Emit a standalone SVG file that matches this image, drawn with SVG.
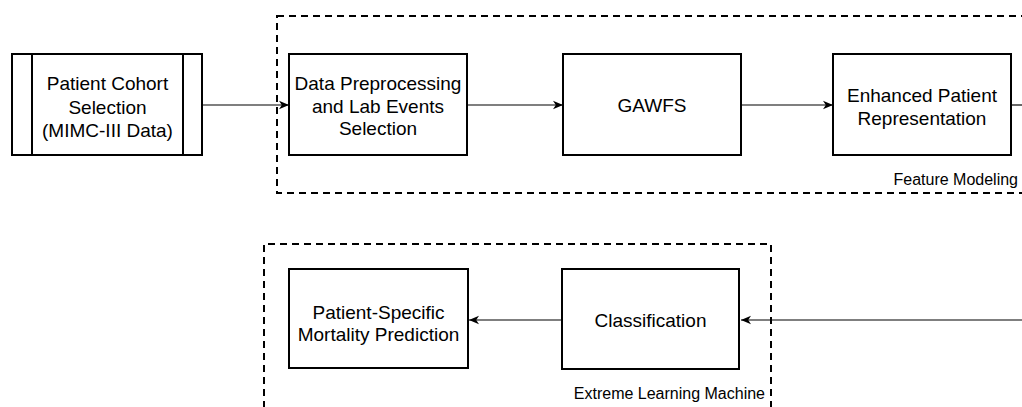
<svg xmlns="http://www.w3.org/2000/svg" width="1022" height="407" viewBox="0 0 1022 407">
<defs>
<style>
.box{fill:#fff;stroke:#000;stroke-width:2}
.grp{fill:none;stroke:#000;stroke-width:2;stroke-dasharray:7 5}
.t{font-family:"Liberation Sans",Arial,sans-serif;font-size:19px;fill:#000;text-anchor:middle}
.lbl{font-family:"Liberation Sans",Arial,sans-serif;font-size:16px;fill:#000;text-anchor:end}
.c{fill:none;stroke:#000;stroke-width:1.2}
</style>
<marker id="arr" viewBox="0 0 10 10" refX="10" refY="5" markerWidth="10" markerHeight="10" markerUnits="userSpaceOnUse" orient="auto">
<path d="M0,0.8 L10,5 L0,9.2 L2.8,5 Z" fill="#000"/>
</marker>
</defs>
<rect width="1022" height="407" fill="#fff"/>
<g id="group-feature-modeling">
<rect class="grp" x="277" y="16" width="760" height="177"/>
<text class="lbl" x="1018" y="185">Feature Modeling</text>
</g>
<g id="group-elm">
<path class="grp" d="M264,420 L264,244 L771,244 L771,420"/>
<text class="lbl" x="765" y="399">Extreme Learning Machine</text>
</g>
<g id="connectors">
<line class="c" x1="202" y1="105" x2="289" y2="105" marker-end="url(#arr)"/>
<line class="c" x1="467" y1="105" x2="563" y2="105" marker-end="url(#arr)"/>
<line class="c" x1="741" y1="105" x2="833" y2="105" marker-end="url(#arr)"/>
<line class="c" x1="1011" y1="105" x2="1022" y2="105"/>
<line class="c" x1="1022" y1="320" x2="741" y2="320" marker-end="url(#arr)"/>
<line class="c" x1="562" y1="320" x2="469" y2="320" marker-end="url(#arr)"/>
</g>
<g id="node-cohort">
<rect class="box" x="12" y="54" width="190" height="101"/>
<line class="box" x1="32" y1="54" x2="32" y2="155"/>
<line class="box" x1="183" y1="54" x2="183" y2="155"/>
<text class="t" x="107.5" y="90">Patient Cohort</text>
<text class="t" x="107.5" y="113.5">Selection</text>
<text class="t" x="107.5" y="137">(MIMC-III Data)</text>
</g>
<g id="node-preprocessing">
<rect class="box" x="289" y="54" width="178" height="101"/>
<text class="t" x="378" y="90">Data Preprocessing</text>
<text class="t" x="378" y="112.5">and Lab Events</text>
<text class="t" x="378" y="135">Selection</text>
</g>
<g id="node-gawfs">
<rect class="box" x="563" y="54" width="178" height="101"/>
<text class="t" x="652" y="112">GAWFS</text>
</g>
<g id="node-enhanced">
<rect class="box" x="833" y="54" width="178" height="101"/>
<text class="t" x="922" y="102">Enhanced Patient</text>
<text class="t" x="922" y="124.5">Representation</text>
</g>
<g id="node-mortality">
<rect class="box" x="289" y="269" width="179" height="99"/>
<text class="t" x="378.5" y="318.5">Patient-Specific</text>
<text class="t" x="378.5" y="340.5">Mortality Prediction</text>
</g>
<g id="node-classification">
<rect class="box" x="562" y="269" width="177" height="100"/>
<text class="t" x="650.5" y="327">Classification</text>
</g>
</svg>
